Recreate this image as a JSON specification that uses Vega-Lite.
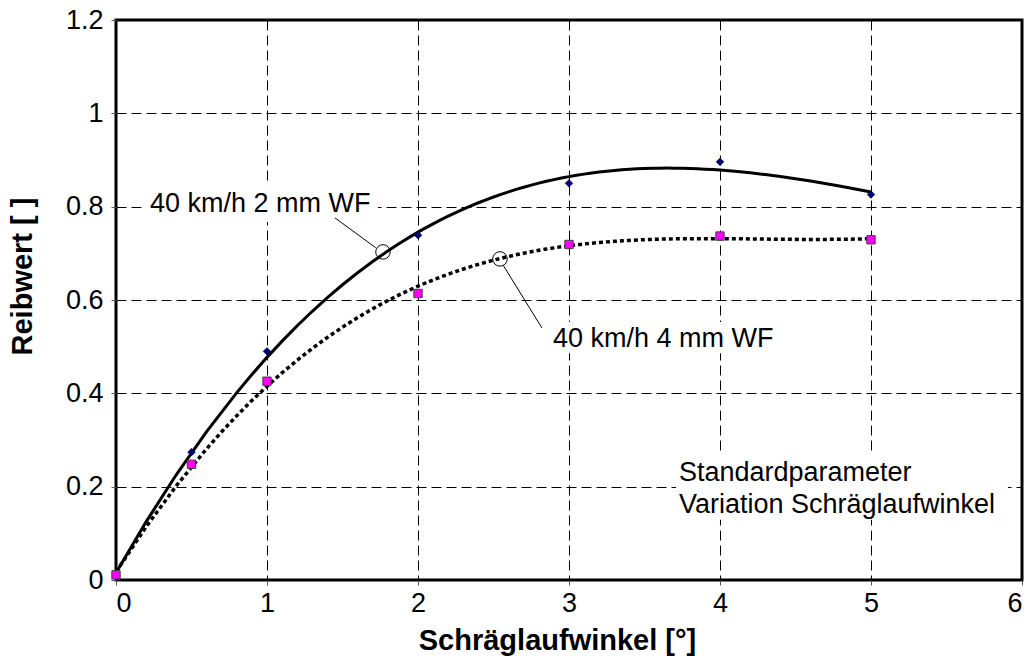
{
  "$schema": "https://vega.github.io/schema/vega-lite/v6.json",
  "autosize": {"type": "none"},
  "width": 906,
  "height": 560,
  "padding": {"left": 116, "top": 20, "right": 9, "bottom": 79},
  "background": "white",
  "config": {
    "view": {"stroke": "black", "strokeWidth": 3},
    "font": "Liberation Sans",
    "axis": {
      "domain": false,
      "grid": true,
      "gridColor": "black",
      "gridDash": [10, 5],
      "gridWidth": 1,
      "gridOpacity": 1,
      "tickColor": "#555",
      "tickSize": 5,
      "tickWidth": 1,
      "labelFont": "Liberation Sans",
      "labelFontSize": 27,
      "labelColor": "black",
      "titleFont": "Liberation Sans",
      "titleFontSize": 29,
      "titleFontWeight": "bold",
      "titleColor": "black"
    }
  },
  "datasets": {
    "points": [
      {"x": 0, "y": 0.01, "series": "2 mm"},
      {"x": 0.5, "y": 0.274, "series": "2 mm"},
      {"x": 1, "y": 0.49, "series": "2 mm"},
      {"x": 2, "y": 0.739, "series": "2 mm"},
      {"x": 3, "y": 0.85, "series": "2 mm"},
      {"x": 4, "y": 0.896, "series": "2 mm"},
      {"x": 5, "y": 0.826, "series": "2 mm"},
      {"x": 0, "y": 0.011, "series": "4 mm"},
      {"x": 0.5, "y": 0.248, "series": "4 mm"},
      {"x": 1, "y": 0.426, "series": "4 mm"},
      {"x": 2, "y": 0.614, "series": "4 mm"},
      {"x": 3, "y": 0.719, "series": "4 mm"},
      {"x": 4, "y": 0.737, "series": "4 mm"},
      {"x": 5, "y": 0.729, "series": "4 mm"}
    ],
    "boxes": [
      {"x": 0.179, "x2": 1.735, "y": 0.846, "y2": 0.767},
      {"x": 2.861, "x2": 4.411, "y": 0.553, "y2": 0.486},
      {"x": 3.709, "x2": 5.907, "y": 0.268, "y2": 0.129}
    ],
    "leaders": [
      {"x": 1.45, "y": 0.776, "x2": 1.72, "y2": 0.712},
      {"x": 2.821, "y": 0.54, "x2": 2.565, "y2": 0.674}
    ],
    "circles": [
      {"x": 1.768, "y": 0.703},
      {"x": 2.543, "y": 0.688}
    ],
    "labels": [
      {"x": 0.225, "y": 0.7886, "label": "40 km/h 2 mm WF"},
      {"x": 2.894, "y": 0.4993, "label": "40 km/h 4 mm WF"},
      {"x": 3.728, "y": 0.2121, "label": "Standardparameter"},
      {"x": 3.728, "y": 0.1436, "label": "Variation Schräglaufwinkel"}
    ]
  },
  "encoding": {
    "x": {
      "field": "x",
      "type": "quantitative",
      "scale": {"domain": [0, 6], "nice": false, "zero": false},
      "axis": {"values": [0, 1, 2, 3, 4, 5, 6], "title": "Schräglaufwinkel [°]", "labelPadding": 5, "titlePadding": 10, "titleX": 441, "titleAlign": "center", "format": "~g"}
    },
    "y": {
      "field": "y",
      "type": "quantitative",
      "scale": {"domain": [0, 1.2], "nice": false, "zero": false},
      "axis": {"values": [0, 0.2, 0.4, 0.6, 0.8, 1, 1.2], "title": "Reibwert [ ]", "labelPadding": 8, "titlePadding": 28, "titleY": 256, "titleAlign": "center", "format": "~g"}
    }
  },
  "layer": [
    {
      "data": {"name": "boxes"},
      "mark": {"type": "rect", "fill": "white", "stroke": null},
      "encoding": {
        "x2": {"field": "x2"},
        "y2": {"field": "y2"}
      }
    },
    {
      "data": {"name": "points"},
      "transform": [
        {"filter": "datum.series === '2 mm'"},
        {"regression": "y", "on": "x", "method": "poly", "order": 3, "extent": [0, 5]}
      ],
      "mark": {"type": "line", "color": "black", "strokeWidth": 3, "clip": true},
      "encoding": {}
    },
    {
      "data": {"name": "points"},
      "transform": [
        {"filter": "datum.series === '4 mm'"},
        {"regression": "y", "on": "x", "method": "poly", "order": 3, "extent": [0, 5]}
      ],
      "mark": {"type": "line", "color": "black", "strokeWidth": 3.5, "strokeDash": [4, 3], "strokeCap": "butt", "clip": true},
      "encoding": {}
    },
    {
      "data": {"name": "points"},
      "transform": [{"filter": "datum.series === '2 mm'"}],
      "mark": {"type": "point", "shape": "diamond", "filled": true, "size": 60, "fill": "#000080", "stroke": "black", "strokeWidth": 0.5, "opacity": 1},
      "encoding": {}
    },
    {
      "data": {"name": "points"},
      "transform": [{"filter": "datum.series === '4 mm'"}],
      "mark": {"type": "point", "shape": "square", "filled": true, "size": 70, "fill": "#FF00FF", "stroke": "#404040", "strokeWidth": 1, "opacity": 1},
      "encoding": {}
    },
    {
      "data": {"name": "leaders"},
      "mark": {"type": "rule", "color": "black", "strokeWidth": 1},
      "encoding": {
        "x2": {"field": "x2"},
        "y2": {"field": "y2"}
      }
    },
    {
      "data": {"name": "circles"},
      "mark": {"type": "point", "shape": "circle", "filled": false, "size": 210, "stroke": "black", "strokeWidth": 1, "opacity": 1},
      "encoding": {}
    },
    {
      "data": {"name": "labels"},
      "mark": {"type": "text", "align": "left", "baseline": "alphabetic", "font": "Liberation Sans", "fontSize": 27, "color": "black"},
      "encoding": {"text": {"field": "label"}}
    }
  ]
}
